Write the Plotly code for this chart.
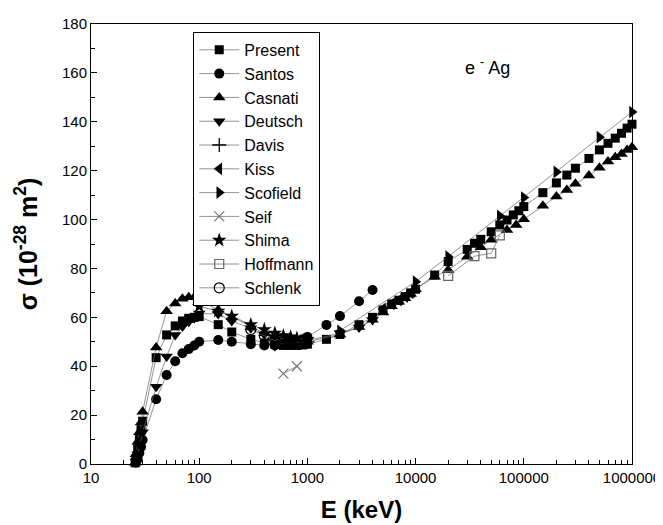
import plotly.graph_objects as go

# ---------------- data ----------------
present_E = [25.6, 26, 27, 28, 29, 30, 40, 50, 60, 70, 80, 90, 100, 150, 200, 300, 400, 500, 600, 700,
             800, 900, 1000, 1500, 2000, 3000, 4000, 5000, 6000, 7000, 8000, 9000, 10000, 15000, 20000,
             30000, 35000, 40000, 50000, 60000, 70000, 80000, 90000, 100000, 150000, 200000, 250000,
             300000, 400000, 500000, 600000, 700000, 800000, 900000, 1000000]
present_s = [0.5, 2, 6, 10, 14, 17.5, 43.5, 52.8, 56.5, 58.5, 59.6, 60, 60.3, 57, 54, 51, 49.5, 49, 48.5, 48.5,
             48.5, 48.7, 49, 51, 53, 57, 60, 63, 65.5, 67, 68.5, 70, 71.5, 77.3, 82.8,
             87.8, 90.3, 91.9, 95, 97.8, 99.8, 101.9, 103.6, 105.3, 111, 115, 118.2,
             121, 125, 128.5, 131.2, 133.3, 135.3, 137.4, 139]

santos_E = [26, 27, 28, 29, 30, 40, 50, 60, 70, 80, 90, 100, 150, 200, 300, 400, 500, 600, 700, 800, 900,
            1000, 1500, 2000, 3000, 4000]
santos_s = [0.5, 2, 4.5, 7, 9.8, 26.5, 36.4, 42, 45.3, 47, 48.5, 50, 50.7, 50, 49, 48.5, 48.5, 49, 49.5, 50, 51,
            52, 56.9, 60.5, 66.6, 71.2]

casnati_E = [25.6, 26, 27, 28, 29, 30, 40, 50, 60, 70, 80, 90, 100, 150, 200, 300, 400, 500, 600, 700, 800,
             900, 1000, 2000, 3000, 4000, 5000, 6000, 7000, 8000, 9000, 10000, 15000, 20000, 30000, 40000,
             50000, 70000, 85000, 100000, 150000, 200000, 250000, 300000, 400000, 500000, 600000, 700000,
             800000, 900000, 1000000]
casnati_s = [0.5, 4, 9, 13, 17, 21.4, 47.7, 62.5, 65.7, 67.6, 68.2, 68.2, 67, 63, 60, 56, 53.5, 52, 51, 50.5, 50,
             50, 50, 53, 56, 59, 62, 64.5, 66.4, 67.8, 69.5, 71.5, 76.6, 79.4, 84.8, 88.7,
             91.7, 95.7, 97.8, 100.1, 105.6, 109.4, 112.1, 114.6, 118, 121.2, 123.7, 125.5,
             126.8, 128.5, 129.6]

deutsch_E = [26, 27, 28, 30, 40, 50, 60, 70, 80, 90, 100, 150, 200, 300, 400, 500, 600, 700, 800, 900, 1000,
             2000, 3000, 4000]
deutsch_s = [1, 4, 8, 13, 31.6, 44, 52.8, 56.2, 58.2, 59.6, 61.6, 61.4, 58.5, 55.5, 53, 52, 51, 50.5, 50, 50, 50.5,
             53.5, 55.8, 58.9]

davis_E = [500, 700, 1000]
davis_s = [49, 49.5, 50]

kiss_E = [5000, 6000, 7000, 8000, 9000]
kiss_s = [63.5, 65.5, 67, 68.5, 70]

scofield_E = [2000, 10000, 20000, 60000, 100000, 200000, 500000, 1000000]
scofield_s = [54.5, 74.6, 84.8, 101.5, 109, 119.5, 133.7, 144]

seif_E = [600, 800]
seif_s = [37, 40]

shima_E = [100, 150, 200, 300, 400, 500, 600, 700, 800, 1000]
shima_s = [64.5, 62.5, 60.5, 57, 55, 53.5, 52.5, 52, 51.5, 51]

hoffmann_E = [20000, 35000, 50000, 60000]
hoffmann_s = [77, 85, 86.2, 93.5]

schlenk_E = [300, 400, 500, 600]
schlenk_s = [55, 52.5, 50.5, 51.5]

x_ticks = [10, 100, 1000, 10000, 100000, 1000000]
x_tick_labels = ["10", "100", "1000", "10000", "100000", "1000000"]

# ---------------- figure ----------------
LINE = dict(color="#666666", width=0.7)
series = [
    ("Present", present_E, present_s, dict(symbol="square", size=9, color="black")),
    ("Santos", santos_E, santos_s, dict(symbol="circle", size=10, color="black")),
    ("Casnati", casnati_E, casnati_s, dict(symbol="triangle-up", size=11, color="black")),
    ("Deutsch", deutsch_E, deutsch_s, dict(symbol="triangle-down", size=11, color="black")),
    ("Davis", davis_E, davis_s, dict(symbol="cross-thin", size=10, color="black",
                                     line=dict(color="black", width=1.3))),
    ("Kiss", kiss_E, kiss_s, dict(symbol="triangle-left", size=11, color="black")),
    ("Scofield", scofield_E, scofield_s, dict(symbol="triangle-right", size=11, color="black")),
    ("Seif", seif_E, seif_s, dict(symbol="x-thin", size=10, color="#777777",
                                  line=dict(color="#777777", width=1.2))),
    ("Shima", shima_E, shima_s, dict(symbol="star", size=11, color="black")),
    ("Hoffmann", hoffmann_E, hoffmann_s, dict(symbol="square-open", size=9, color="#666666",
                                              line=dict(color="#666666", width=1.2))),
    ("Schlenk", schlenk_E, schlenk_s, dict(symbol="circle-open", size=10, color="black",
                                           line=dict(color="black", width=1.2))),
]

fig = go.Figure()
for name, xs, ys, mk in series:
    fig.add_trace(go.Scatter(x=xs, y=ys, name=name, mode="lines+markers",
                             line=LINE, marker=mk, cliponaxis=False))

minor_x = []
for d in [10, 100, 1000, 10000, 100000]:
    for k in range(2, 10):
        minor_x.append(k * d)

# the page adds an 8px body margin, so the figure is sized to fit the 663x525 window
fig.update_layout(
    width=655, height=517,
    margin=dict(l=83, r=31, t=16, b=61),
    paper_bgcolor="white", plot_bgcolor="white",
    font=dict(family="Arial, Liberation Sans, sans-serif", color="black", size=15),
    legend=dict(x=0.189, y=0.982, xanchor="left", yanchor="top",
                bordercolor="black", borderwidth=1, bgcolor="white",
                font=dict(size=16), tracegroupgap=0, itemwidth=40),
    annotations=[dict(text="e <sup>-</sup> Ag", x=0.778, y=0.935, xref="paper", yref="paper",
                      showarrow=False, font=dict(size=18))],
)
fig.update_xaxes(type="log", range=[1, 6], tickvals=x_ticks, ticktext=x_tick_labels,
                 ticks="inside", ticklen=6, tickwidth=1, tickcolor="black",
                 showline=True, linecolor="black", linewidth=1, mirror=True,
                 showgrid=False, zeroline=False, automargin=False,
                 minor=dict(tickvals=minor_x, ticks="inside", ticklen=4, tickcolor="black", showgrid=False),
                 title=dict(text="<b>E (keV)</b>", font=dict(size=24), standoff=16),
                 tickfont=dict(size=15))
fig.update_yaxes(range=[0, 180], dtick=20, tick0=0,
                 ticks="inside", ticklen=6, tickwidth=1, tickcolor="black",
                 showline=True, linecolor="black", linewidth=1, mirror=True,
                 showgrid=False, zeroline=False, automargin=False,
                 minor=dict(dtick=10, ticks="inside", ticklen=4, tickcolor="black", showgrid=False),
                 title=dict(text="<b>σ (10<sup>-28</sup> m<sup>2</sup>)</b>", font=dict(size=25), standoff=17),
                 tickfont=dict(size=15))

fig.write_html("out.html")
